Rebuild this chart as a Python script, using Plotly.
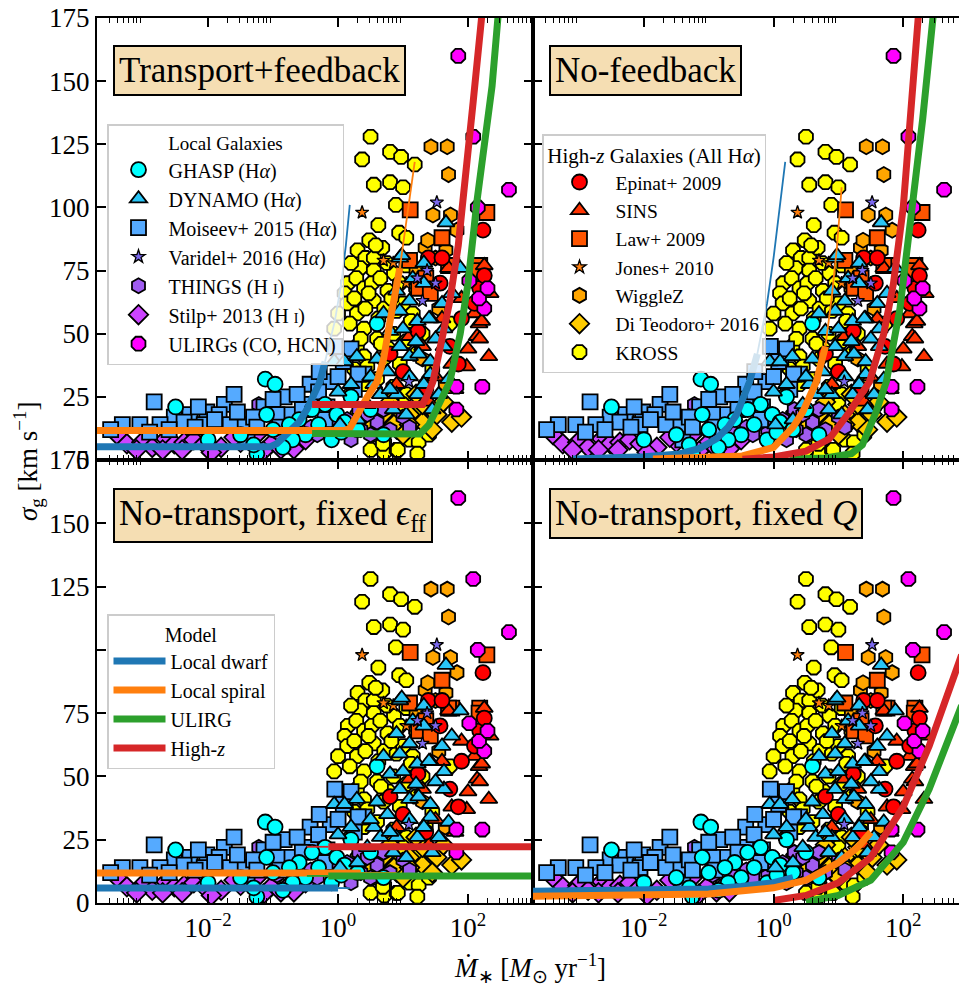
import numpy as np
import plotly.graph_objects as go
from plotly.subplots import make_subplots

SERIF = "Liberation Serif"

# ---------------- observational data: log10(SFR [Msun/yr]) and sigma_g [km/s] ----------------
kross_lsfr = [0.5, 0.37, 0.8, 0.97, 1.18, 0.55, 0.8, 1.0, 0.89, 0.48, 0.94, 0.62, 1.05,
              0.3, 0.42, 0.55, 0.68, 0.34, 0.55, 0.86, 0.75, 1.05, 0.2,
              0.15, 0.28, 0.4, 0.52, 0.76, 0.65, 0.95, 1.2, 0.1,
              0.14, 0.29, 0.55, 0.71, 0.9, 1.0, 0.42, 0.0, 1.15,
              -0.06, 0.18, 0.4, 0.29, 0.6, 0.85, 1.05, 1.72, 1.3,
              0.4, 0.25, 0.45, 0.7, 0.95, 1.2, 0.1, 1.45,
              0.4, 0.19, 0.6, 0.85, 1.05, 1.35, 0.3,
              0.5, 0.8, 1.0, 1.25, 1.55, 0.3,
              0.71, 0.71, 0.9, 1.1, 1.13, 1.24, 0.8, 0.5, 1.22, 0.95, 1.4, 0.6, 0.69, 0.92,
              0.25, 0.62, 0.78, 0.35, 0.58, 0.82, 1.12, 0.47, 0.66]
kross_sigma = [128, 119, 122, 120, 117, 109, 110, 108, 101, 87, 90, 93, 88,
               83, 80, 80, 84, 76, 75, 74, 78, 77, 78,
               70, 72, 68, 70, 67, 72, 70, 68, 66,
               62, 58, 63, 60, 59, 62, 60, 58, 58,
               52, 54, 52, 45, 48, 50, 47, 54, 50,
               41, 36, 37, 40, 38, 42, 40, 36,
               30, 26, 32, 29, 26, 30, 33,
               20, 17, 22, 19, 21, 18,
               7, 3, 4, 8, 14, 7, 13, 4, 2.5, 11, 10, 10, 6.4, 4,
               64, 56, 44, 48, 85, 64, 55, 66, 46]

diteo_lsfr = [0.69, 0.86, 1.1, 1.3, 1.52, 1.75, 1.62, 1.1, 0.8, 1.3, 1.45, 1.9, 1.0, 1.2, 0.55]
diteo_sigma = [18, 14, 18, 15, 18, 15, 23, 14, 23, 22, 12, 17, 10, 26, 14]

wigglez_lsfr = [1.43, 1.68, 1.7, 1.46, 1.73, 1.83, 1.34, 1.66, 1.38, 1.5, 1.2, 1.55, 1.3, 1.65]
wigglez_sigma = [124, 124, 113, 97, 97, 91, 84, 83, 87, 80, 75, 60, 40, 30]

jones_lsfr = [0.37, 0.7, 0.85, 1.05]
jones_sigma = [98, 79, 78, 70]

law_lsfr = [1.11, 2.29, 1.6, 1.75, 2.18, 2.17, 1.7, 1.24, 1.42, 1.1, 1.35]
law_sigma = [99, 98, 88, 77, 77, 75, 77, 68, 66, 79, 72]

sins_lsfr = [2.32, 1.98, 2.14, 2.17, 2.34, 1.75, 1.8, 1.1, 1.7, 2.1, 1.5, 1.3, 2.0, 1.6,
             1.9, 2.25, 1.4, 0.9, 2.21, 2.18]
sins_sigma = [41, 37, 49, 54, 66, 38, 28, 49, 76, 58, 33, 45, 44, 56, 64, 77, 23, 30, 55, 48]

epinat_lsfr = [2.23, 2.18, 1.57, 1.72, 0.8, 1.39, 1.23, 1.9, 2.1, 1.6, 1.0, 1.35, 2.25, 1.85]
epinat_sigma = [91, 68, 70, 45, 42, 80, 51, 56, 62, 80, 35, 28, 73, 38]

ulirg_lsfr = [1.85, 2.08, 2.63, 2.15, 2.02, 2.25, 2.17, 1.82, 2.22, 1.82, 2.3]
ulirg_sigma = [160, 128, 107, 100, 71, 60, 64, 29, 29, 20, 68]

stilp_lsfr = [-3.4, -3.25, -3.02, -2.86, -2.65, -2.52, -2.37, -2.22, -2.06, -1.5, -1.25,
              -1.03, -0.78, -0.68, -0.88, -1.8, -1.95, -2.7, -3.1, -1.6, -0.5, -1.15, -2.4]
stilp_sigma = [10, 6.4, 7, 5, 8.4, 6.4, 7, 8, 6.4, 7, 10, 6.4, 6.4, 4.4, 4.4, 5, 3, 4, 4,
               9, 8, 3.5, 4]

things_lsfr = [-1.22, -0.02, -0.42, -0.32, -0.09, 0.14, 0.32, 0.5, -0.63, -0.94, 0.35,
               0.6, 0.8, 1.0, 0.2, -0.2, 0.7, 1.1, -0.12, 0.45]
things_sigma = [22, 18, 13, 10, 12, 16, 20, 10, 11, 11, 12, 15, 12, 17, 8, 15, 20, 13, 16, 18]

varidel_lsfr = [1.37, 1.22, 1.5, 1.3, 1.09, 1.52]
varidel_sigma = [75, 72, 70, 63, 31, 102]

moiseev_lsfr = [-2.83, -3.32, -3.05, -2.52, -2.28, -2.02, -1.75, -1.6, -1.83, -1.45, -1.14,
                -0.83, -0.74, -0.43, -0.43, -0.17, -0.12, -0.29, 0.11, 0.4, -0.63, -0.94,
                -1.66, -2.06, -2.37, -2.74, -1.4, 0.08, 0.31, -0.05, 0.2, -3.5, -2.9, -2.6,
                -2.2, -1.9, -1.3, -1.0, -0.55, -0.3, 0.0, -0.2, -1.25, -1.55, -2.15, -0.9, 0.25]
moiseev_sigma = [23, 14, 14, 17, 18, 19, 22, 26, 18, 14, 21, 25, 18, 30, 22, 21, 31, 35, 39,
                 34, 26, 18, 14, 14, 15, 14, 8, 39, 34, 45, 44, 12, 11, 12, 13, 16, 17, 24,
                 20, 27, 33, 16, 13, 19, 21, 13, 28]

dynamo_lsfr = [-0.06, 0.1, 0.29, 0.55, 0.76, 0.8, 0.95, 1.1, 1.24, 1.42, 1.63, 1.63, 1.42,
               1.22, 1.1, 0.9, 0.95, 1.32, 1.4, 1.42, 1.22, 0.9, 0.65, 0.5, 0.8, 1.1, 1.32,
               1.88, 0.95, 1.32, 1.66, 0.98, 0.2, 0.0, 0.6, 1.0, 1.5, 1.2, 0.7, 1.6, 1.75,
               1.15, 0.45, 1.55, 1.7, 0.85, 1.05, 1.45, 0.03, 0.3]
dynamo_sigma = [39, 39, 41, 30, 35, 51, 45, 41, 42, 39, 45, 52, 56, 55, 63, 67, 59, 70, 56,
                34, 26, 26, 26, 33, 28, 33, 30, 76, 80, 78, 94, 81, 30, 27, 40, 52, 48, 47,
                58, 62, 66, 72, 22, 26, 32, 20, 18, 20, 14, 16]

ghasp_lsfr = [-1.12, -0.97, -2.5, 0.6, -1.25, -0.02, -0.3, -0.5, -0.7, -1.0, -1.3, -0.2, 0.1,
              0.3, 0.5, -0.1, -0.6, -0.85, 0.2, -1.5, -2.0, 0.7, -0.4, 0.05, -1.1, -0.75]
ghasp_sigma = [32, 30, 21, 54, 2.5, 18, 14, 10, 8, 12, 6, 22, 15, 12, 20, 8, 16, 5, 25, 10,
               8, 10, 20, 11, 18, 14]

# ---------------- model curves: log10(SFR), sigma ----------------
tf_dwarf_lsfr = [-3.8, -1.05, -0.94, -0.74, -0.6, -0.48, -0.38, -0.28, -0.2]
tf_dwarf_sig = [5.2, 5.2, 6.5, 11, 15, 20, 25, 31, 39]
tf_dwarf_thin_lsfr = [-0.2, -0.05, 0.05, 0.12, 0.18]
tf_dwarf_thin_sig = [39, 55, 70, 85, 101]
tf_spiral_lsfr = [-3.8, 0.1, 0.18, 0.29, 0.45, 0.6, 0.7, 0.8, 0.95]
tf_spiral_sig = [11.7, 11.7, 12.5, 18, 25, 31, 40, 55, 76]
tf_spiral_thin_lsfr = [0.95, 1.05, 1.18]
tf_spiral_thin_sig = [76, 95, 118]
tf_ulirg_lsfr = [-0.4, 1.26, 1.4, 1.52, 1.62, 1.72, 1.88, 2.0, 2.14, 2.26, 2.37, 2.47]
tf_ulirg_sig = [10.5, 10.3, 14, 20, 25, 31, 50, 70, 103, 125, 148, 178]
tf_highz_lsfr = [-0.4, 1.3, 1.38, 1.46, 1.6, 1.72, 1.85, 1.93, 2.08, 2.22]
tf_highz_sig = [22, 22, 26, 31, 48, 63, 85, 103, 142, 178]

nf_dwarf_lsfr = [-3.09, -2.5, -2.0, -1.45, -1.15, -0.88, -0.7, -0.57, -0.45, -0.37, -0.25]
nf_dwarf_sig = [0.4, 0.8, 1.3, 2.4, 4.5, 8.4, 13, 18, 25, 31, 42]
nf_dwarf_thin_lsfr = [-0.25, -0.1, 0.0, 0.1, 0.18]
nf_dwarf_thin_sig = [42, 62, 80, 100, 118]
nf_spiral_lsfr = [-1.86, -1.0, -0.48, 0.0, 0.14, 0.3, 0.45, 0.56, 0.66, 0.8]
nf_spiral_sig = [0.4, 1.0, 1.6, 5, 8.4, 13, 19, 25, 31, 45]
nf_spiral_thin_lsfr = [0.8, 0.9, 0.98, 1.05]
nf_spiral_thin_sig = [45, 65, 85, 108]
nf_ulirg_lsfr = [0.25, 0.8, 1.2, 1.37, 1.58, 1.74, 1.95, 2.15, 2.3, 2.47]
nf_ulirg_sig = [0.3, 0.8, 2.5, 6, 19, 31, 60, 100, 135, 178]
nf_highz_lsfr = [-0.48, 0.0, 0.5, 0.86, 1.17, 1.48, 1.7, 1.85, 2.0, 2.12, 2.24]
nf_highz_sig = [0.3, 1.2, 3.5, 8.4, 19, 31, 50, 70, 100, 135, 178]

eff_dwarf_lsfr = [-3.8, 0.0]
eff_dwarf_sig = [5.9, 5.9]
eff_dwarf_thin_lsfr = [0.0, 0.18]
eff_dwarf_thin_sig = [5.9, 5.9]
eff_spiral_lsfr = [-3.8, 0.35]
eff_spiral_sig = [11.9, 11.9]
eff_spiral_thin_lsfr = [0.35, 0.9]
eff_spiral_thin_sig = [11.9, 11.9]
eff_ulirg_lsfr = [-0.15, 3.1]
eff_ulirg_sig = [10.7, 10.7]
eff_ulirg_thin_lsfr = [-0.48, -0.15]
eff_ulirg_thin_sig = [10.7, 10.7]
eff_highz_lsfr = [-0.15, 3.1]
eff_highz_sig = [22.2, 22.2]
eff_highz_thin_lsfr = [-0.48, -0.15]
eff_highz_thin_sig = [22.2, 22.2]

q_dwarf_lsfr = [-3.8, -2.0, -1.0, -0.5, 0.0, 0.3]
q_dwarf_sig = [4.6, 4.8, 5.5, 6.5, 8, 10]
q_spiral_lsfr = [-3.8, -2.0, -1.0, 0.0, 0.5, 1.0, 1.3, 1.5]
q_spiral_sig = [2.6, 2.8, 3.6, 6, 9, 16, 22, 28]
q_ulirg_lsfr = [0.5, 1.0, 1.5, 2.0, 2.4, 2.9]
q_ulirg_sig = [0.5, 3, 9, 24, 45, 78]
q_highz_lsfr = [0.0, 0.5, 1.0, 1.5, 2.0, 2.4, 2.9]
q_highz_sig = [1, 3, 8, 18, 38, 62, 98]

# ---------------- figure ----------------
fig = make_subplots(rows=2, cols=2, horizontal_spacing=0, vertical_spacing=0)
cells = [(1, 1), (1, 2), (2, 1), (2, 2)]

HI = "H <span style='font-size:14px'>I</span>"
datasets = [
    # name, lsfr, sigma, symbol, color, size, legend, rank
    ("KROSS", kross_lsfr, kross_sigma, "octagon", "#ffff00", 15, "legend2", 7),
    ("Di Teodoro+ 2016", diteo_lsfr, diteo_sigma, "diamond", "#ffcc00", 15, "legend2", 6),
    ("WiggleZ", wigglez_lsfr, wigglez_sigma, "hexagon", "#ffa500", 15, "legend2", 5),
    ("Jones+ 2010", jones_lsfr, jones_sigma, "star", "#ff7f0e", 10, "legend2", 4),
    ("Law+ 2009", law_lsfr, law_sigma, "square", "#ff5500", 15, "legend2", 3),
    ("SINS", sins_lsfr, sins_sigma, "triangle-up", "#ff3300", 15, "legend2", 2),
    ("Epinat+ 2009", epinat_lsfr, epinat_sigma, "circle", "#ff0000", 15, "legend2", 1),
    ("Stilp+ 2013 (" + HI + ")", stilp_lsfr, stilp_sigma, "diamond", "#cc44ff", 15, "legend", 6),
    ("THINGS (" + HI + ")", things_lsfr, things_sigma, "hexagon", "#a05cf0", 15, "legend", 5),
    ("Moiseev+ 2015 (H<i>α</i>)", moiseev_lsfr, moiseev_sigma, "square", "#55aaff", 15, "legend", 3),
    ("GHASP (H<i>α</i>)", ghasp_lsfr, ghasp_sigma, "circle", "#00ffff", 15, "legend", 1),
    ("DYNAMO (H<i>α</i>)", dynamo_lsfr, dynamo_sigma, "triangle-up", "#29c5f6", 15, "legend", 2),
    ("Varidel+ 2016 (H<i>α</i>)", varidel_lsfr, varidel_sigma, "star", "#7b68ee", 10, "legend", 4),
    ("ULIRGs (CO, HCN)", ulirg_lsfr, ulirg_sigma, "octagon", "#ff00ff", 15, "legend", 7),
]

for k, (r, c) in enumerate(cells):
    for name, lx, sg, sym, col, sz, leg, rank in datasets:
        fig.add_trace(go.Scatter(
            x=10 ** np.array(lx), y=sg, mode="markers", name=name,
            marker=dict(symbol=sym, color=col, size=sz,
                        line=dict(color="black", width=1.3 if sym == "star" else 1.8)),
            showlegend=(k == 0), legend=leg, legendrank=rank, hoverinfo="skip"),
            row=r, col=c)

model_colors = {"Local dwarf": "#1f77b4", "Local spiral": "#ff7f0e",
                "ULIRG": "#2ca02c", "High-<i>z</i>": "#d62728"}
model_rank = {"Local dwarf": 1, "Local spiral": 2, "ULIRG": 3, "High-<i>z</i>": 4}

panel_curves = [
    [("Local dwarf", tf_dwarf_lsfr, tf_dwarf_sig, tf_dwarf_thin_lsfr, tf_dwarf_thin_sig),
     ("Local spiral", tf_spiral_lsfr, tf_spiral_sig, tf_spiral_thin_lsfr, tf_spiral_thin_sig),
     ("ULIRG", tf_ulirg_lsfr, tf_ulirg_sig, None, None),
     ("High-<i>z</i>", tf_highz_lsfr, tf_highz_sig, None, None)],
    [("Local dwarf", nf_dwarf_lsfr, nf_dwarf_sig, nf_dwarf_thin_lsfr, nf_dwarf_thin_sig),
     ("Local spiral", nf_spiral_lsfr, nf_spiral_sig, nf_spiral_thin_lsfr, nf_spiral_thin_sig),
     ("ULIRG", nf_ulirg_lsfr, nf_ulirg_sig, None, None),
     ("High-<i>z</i>", nf_highz_lsfr, nf_highz_sig, None, None)],
    [("Local dwarf", eff_dwarf_lsfr, eff_dwarf_sig, eff_dwarf_thin_lsfr, eff_dwarf_thin_sig),
     ("Local spiral", eff_spiral_lsfr, eff_spiral_sig, eff_spiral_thin_lsfr, eff_spiral_thin_sig),
     ("ULIRG", eff_ulirg_lsfr, eff_ulirg_sig, eff_ulirg_thin_lsfr, eff_ulirg_thin_sig),
     ("High-<i>z</i>", eff_highz_lsfr, eff_highz_sig, eff_highz_thin_lsfr, eff_highz_thin_sig)],
    [("Local dwarf", q_dwarf_lsfr, q_dwarf_sig, None, None),
     ("Local spiral", q_spiral_lsfr, q_spiral_sig, None, None),
     ("ULIRG", q_ulirg_lsfr, q_ulirg_sig, None, None),
     ("High-<i>z</i>", q_highz_lsfr, q_highz_sig, None, None)],
]

for k, (r, c) in enumerate(cells):
    for name, lx, sg, tlx, tsg in panel_curves[k]:
        col = model_colors[name]
        if tlx is not None:
            fig.add_trace(go.Scatter(x=10 ** np.array(tlx), y=tsg, mode="lines",
                                     line=dict(color=col, width=1.8), showlegend=False,
                                     hoverinfo="skip"), row=r, col=c)
        fig.add_trace(go.Scatter(x=10 ** np.array(lx), y=sg, mode="lines", name=name,
                                 line=dict(color=col, width=7), showlegend=(k == 2),
                                 legend="legend3", legendrank=model_rank[name],
                                 hoverinfo="skip"), row=r, col=c)

W, H = 959, 989
def px(v): return v / W
def py(v): return (H - v) / H

xl = [px(97), px(533)]
xr = [px(533), 1.0]
yt = [py(460), py(18)]
yb = [py(903), py(460)]

major = [1e-2, 1, 1e2]
major_txt = ["10<sup>−2</sup>", "10<sup>0</sup>", "10<sup>2</sup>"]
minor_vals = [m * 10.0 ** d for d in (-4, -2, 0, 2) for m in range(2, 10)]

tickfont = dict(family=SERIF, size=27, color="black")
common_x = dict(type="log", showgrid=False, zeroline=False, showline=True, linecolor="black",
                linewidth=2, ticks="inside", ticklen=9, tickwidth=1.8, tickcolor="black",
                tickvals=major, ticktext=major_txt, tickfont=tickfont, mirror="ticks",
                automargin=False,
                minor=dict(tickvals=minor_vals, ticks="inside", ticklen=5, tickwidth=1.3,
                           tickcolor="black", showgrid=False))
yvals = [0, 25, 50, 75, 100, 125, 150, 175]
common_y = dict(range=[0, 175], showgrid=False, zeroline=False, showline=True,
                linecolor="black", linewidth=2, ticks="inside", ticklen=9, tickwidth=1.8,
                tickcolor="black", tickvals=yvals, tickfont=tickfont, automargin=False)

fig.update_layout(
    xaxis=dict(common_x, domain=xl, range=[-3.71, 3.0], showticklabels=False),
    xaxis2=dict(common_x, domain=xr, range=[-3.71, 2.86], showticklabels=False),
    xaxis3=dict(common_x, domain=xl, range=[-3.71, 3.0]),
    xaxis4=dict(common_x, domain=xr, range=[-3.71, 2.86]),
    yaxis=dict(common_y, domain=yt, mirror="ticks",
               ticktext=[str(v) for v in yvals]),
    yaxis2=dict(common_y, domain=yt, mirror=False, showticklabels=False),
    yaxis3=dict(common_y, domain=yb, mirror="ticks",
                ticktext=["0", "25", "50", "75", "", "125", "150", "175"]),
    yaxis4=dict(common_y, domain=yb, mirror=False, showticklabels=False),
)

leg_common = dict(xanchor="left", yanchor="top", bgcolor="rgba(255,255,255,0.8)",
                  bordercolor="#cccccc", borderwidth=1.5,
                  font=dict(family=SERIF, size=20, color="black"), tracegroupgap=0)
fig.update_layout(
    legend=dict(leg_common, x=px(107), y=py(124), itemwidth=50,
                title=dict(text="Local Galaxies", side="top center",
                           font=dict(family=SERIF, size=19))),
    legend2=dict(leg_common, x=px(542), y=py(134), itemwidth=62,
                 font=dict(family=SERIF, size=19.5, color="black"),
                 title=dict(text="High-<i>z</i> Galaxies (All H<i>α</i>)", side="top center",
                            font=dict(family=SERIF, size=21))),
    legend3=dict(leg_common, x=px(107), y=py(614), itemwidth=52,
                 title=dict(text="Model", side="top center",
                            font=dict(family=SERIF, size=20))),
)

box = dict(showarrow=False, xref="paper", yref="paper", xanchor="left", yanchor="top",
           bgcolor="#f5deb3", bordercolor="black", borderwidth=2, borderpad=4,
           font=dict(family=SERIF, size=35, color="black"))
titles = [("Transport+feedback", 113, 45), ("No-feedback", 549, 45),
          ("No-transport, fixed <i>ϵ</i><sub>ff</sub>", 113, 488),
          ("No-transport, fixed <i>Q</i>", 549, 488)]
for txt, bx, by in titles:
    fig.add_annotation(box, text=txt, x=px(bx), y=py(by))

fig.add_annotation(text="<i>σ</i><sub>g</sub> [km s<sup>−1</sup>]", x=px(28), y=py(462),
                   xref="paper", yref="paper", showarrow=False, textangle=-90,
                   xanchor="center", yanchor="middle",
                   font=dict(family=SERIF, size=27, color="black"))
fig.add_annotation(text="<i>M\u0307</i><sub>∗</sub> [<i>M</i><sub>⊙</sub> yr<sup>−1</sup>]",
                   x=px(530), y=py(968), xref="paper", yref="paper", showarrow=False,
                   xanchor="center", yanchor="middle",
                   font=dict(family=SERIF, size=27, color="black"))

fig.update_layout(width=W, height=H, margin=dict(l=0, r=0, t=0, b=0, autoexpand=False),
                  paper_bgcolor="white", plot_bgcolor="white")

fig.write_html("out.html")
